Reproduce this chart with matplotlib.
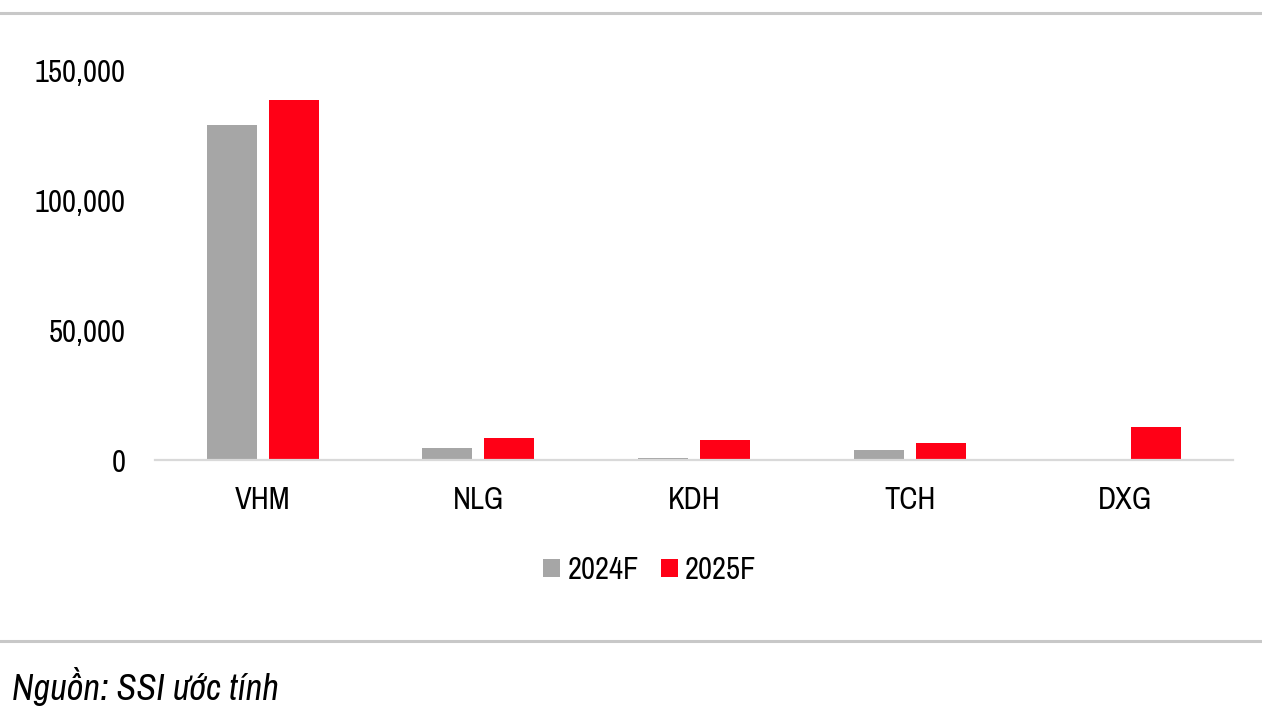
import matplotlib
matplotlib.use("Agg")
import matplotlib.pyplot as plt
import numpy as np
from matplotlib.lines import Line2D
from matplotlib.ticker import FuncFormatter
from matplotlib import font_manager

categories = ["VHM", "NLG", "KDH", "TCH", "DXG"]
series_names = ["2024F", "2025F"]
values_2024 = [129000, 4650, 660, 3760, 0]
values_2025 = [139000, 8640, 7750, 6700, 12800]
yticks = [0, 50000, 100000, 150000]
source_text = "Nguồn: SSI ước tính"

names = sorted({f.name for f in font_manager.fontManager.ttflist})
narrow = [n for n in names if ("Narrow" in n or "Condensed" in n)]
if narrow:
    main = narrow[0]
    FS = 22
else:
    main = "Liberation Sans"
    FS = 19
FONT = [main, "DejaVu Sans"]
plt.rcParams["font.family"] = FONT

W, H = 1262, 718
fig = plt.figure(figsize=(W / 100, H / 100), dpi=100)
ax = fig.add_axes([155 / W, (H - 460) / H, (1233 - 155) / W, (460 - 71) / H])

x = np.arange(len(categories))
bw = 0.232
off = 0.144
ax.bar(x - off, values_2024, bw, color="#a6a6a6", label=series_names[0])
ax.bar(x + off, values_2025, bw, color="#ff0016", label=series_names[1])

ax.set_xlim(-0.5, len(categories) - 0.5)
ax.set_ylim(0, 150000)
ax.set_yticks(yticks)
ax.yaxis.set_major_formatter(FuncFormatter(lambda v, p: f"{int(v):,}"))
ax.set_xticks(x)
ax.set_xticklabels(categories)
for s in ["top", "right", "left"]:
    ax.spines[s].set_visible(False)
ax.spines["bottom"].set_color("#d9d9d9")
ax.spines["bottom"].set_linewidth(1.6)
ax.tick_params(axis="both", length=0, labelsize=FS, colors="black")
ax.tick_params(axis="y", pad=21)
ax.tick_params(axis="x", pad=19)

leg = fig.legend(loc="center", bbox_to_anchor=(650 / W, (H - 570) / H), ncol=2,
                 frameon=False, fontsize=FS, handlelength=0.55, handleheight=0.55,
                 handletextpad=0.25, columnspacing=0.7)

fig.add_artist(Line2D([0, 1], [(H - 13) / H] * 2, color="#c8c8c8", lw=2.2,
                      transform=fig.transFigure))
fig.add_artist(Line2D([0, 1], [(H - 641) / H] * 2, color="#c8c8c8", lw=2.2,
                      transform=fig.transFigure))
fig.text(12 / W, (H - 686) / H, source_text, fontsize=FS * 1.19, style="italic",
         ha="left", va="center")

fig.savefig("out.png", dpi=100)
